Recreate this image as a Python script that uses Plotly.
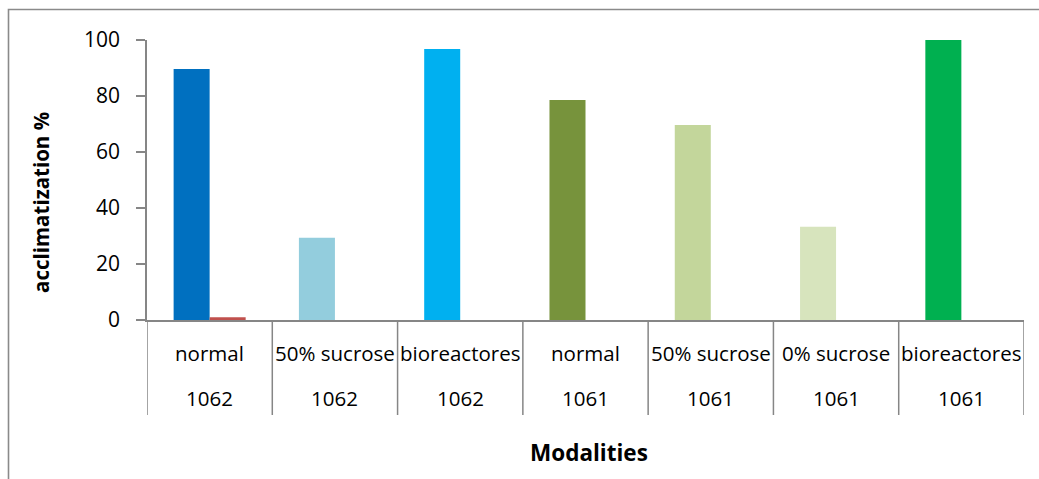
import plotly.graph_objects as go

# Treatments (inner label) and clone (outer label) for each column
treatments = ["normal", "50% sucrose", "bioreactores", "normal",
              "50% sucrose", "0% sucrose", "bioreactores"]
clones = ["1062", "1062", "1062", "1061", "1061", "1061", "1061"]

# Acclimatization percentage per modality
acclimatization = [89.6, 29.4, 96.8, 78.6, 69.6, 33.3, 100.0]
# Second series: only the first modality has a (tiny) value
second_series = [1.0, None, None, None, None, None, None]

bar_colors = ["#0070C0", "#93CDDD", "#00B0F0", "#77933C",
              "#C3D69B", "#D7E4BD", "#00B050"]
second_color = "#C0504D"

y_ticks = [0, 20, 40, 60, 80, 100]

FONT = "Open Sans"
AXIS_GREY = "#868686"

W, H = 1039, 479
L, R, T, B = 147, 15, 40, 159
plot_w = W - L - R
plot_h = H - T - B


def px_to_paper_x(px):
    return (px - L) / plot_w


def px_to_paper_y(py):
    return (H - B - py) / plot_h


idx = list(range(len(treatments)))

fig = go.Figure()
fig.add_trace(go.Bar(
    x=idx, y=acclimatization, marker=dict(color=bar_colors, line=dict(width=0)),
    showlegend=False, hoverinfo="y",
))
fig.add_trace(go.Bar(
    x=idx, y=second_series, marker=dict(color=second_color, line=dict(width=0)),
    showlegend=False, hoverinfo="y",
))

shapes = []
# Category dividers running down through both label rows
for k in range(len(treatments) + 1):
    shapes.append(dict(
        type="line", xref="x", yref="paper",
        x0=k - 0.5, x1=k - 0.5, y0=0, y1=px_to_paper_y(415),
        line=dict(color=AXIS_GREY, width=1.5),
    ))
# Chart-area frame (only top and left edges fall inside the page)
shapes.append(dict(
    type="rect", xref="paper", yref="paper",
    x0=px_to_paper_x(8.5), x1=px_to_paper_x(W + 20),
    y0=px_to_paper_y(H + 20), y1=px_to_paper_y(9.5),
    line=dict(color="#8A8A8A", width=1.6), fillcolor="rgba(0,0,0,0)",
    layer="below",
))

annotations = []
for k, (t, c) in enumerate(zip(treatments, clones)):
    annotations.append(dict(
        x=k, y=px_to_paper_y(353), xref="x", yref="paper", text=t,
        showarrow=False, xanchor="center", yanchor="middle",
        font=dict(family=FONT, size=20.5, color="#000000"),
    ))
    annotations.append(dict(
        x=k, y=px_to_paper_y(398), xref="x", yref="paper", text=c,
        showarrow=False, xanchor="center", yanchor="middle",
        font=dict(family=FONT, size=20.5, color="#000000"),
    ))
annotations.append(dict(
    x=px_to_paper_x(589), y=px_to_paper_y(452), xref="paper", yref="paper",
    text="<b>Modalities</b>", showarrow=False, xanchor="center", yanchor="middle",
    font=dict(family=FONT, size=22.5, color="#000000"),
))
annotations.append(dict(
    x=px_to_paper_x(41), y=px_to_paper_y(203), xref="paper", yref="paper",
    text="<b>acclimatization %</b>", showarrow=False, textangle=-90,
    xanchor="center", yanchor="middle",
    font=dict(family=FONT, size=20.5, color="#000000"),
))

fig.update_layout(
    width=W, height=H,
    margin=dict(l=L, r=R, t=T, b=B, pad=0),
    paper_bgcolor="white", plot_bgcolor="white",
    barmode="group", bargap=0.425, bargroupgap=0,
    shapes=shapes, annotations=annotations,
    xaxis=dict(
        range=[-0.5, len(treatments) - 0.5], showticklabels=False,
        showgrid=False, zeroline=False, showline=True,
        linecolor=AXIS_GREY, linewidth=1.5, ticks="",
        fixedrange=True,
    ),
    yaxis=dict(
        range=[0, 100], tickvals=y_ticks, ticks="outside", ticklen=9,
        tickcolor=AXIS_GREY, tickwidth=1.5, showgrid=False, zeroline=False,
        showline=True, linecolor=AXIS_GREY, linewidth=1.5,
        ticklabelstandoff=12,
        tickfont=dict(family=FONT, size=21, color="#000000"),
        fixedrange=True,
    ),
)

fig.write_html("out.html")
